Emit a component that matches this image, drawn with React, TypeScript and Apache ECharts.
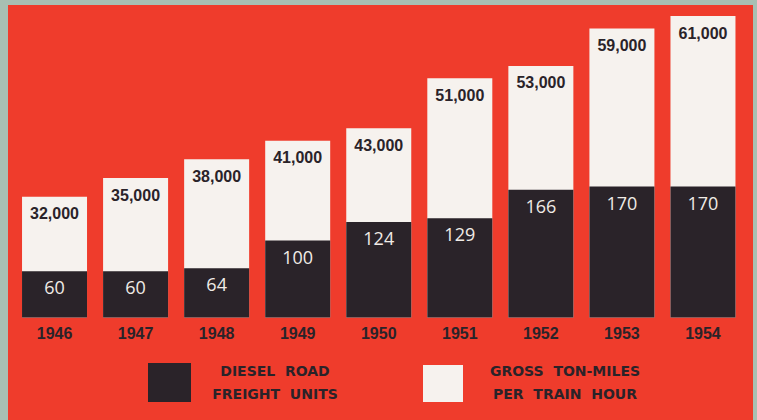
import React, { useEffect, useRef } from "react";
import * as echarts from "echarts";

const years = ["1946", "1947", "1948", "1949", "1950", "1951", "1952", "1953", "1954"];
const dieselUnits = [60, 60, 64, 100, 124, 129, 166, 170, 170];
const tonMiles = [32000, 35000, 38000, 41000, 43000, 51000, 53000, 59000, 61000];
const legendDiesel = ["DIESEL  ROAD", "FREIGHT  UNITS"];
const legendTon = ["GROSS  TON-MILES", "PER  TRAIN  HOUR"];

const RED = "#ef3c2c";
const DARK = "#2a2329";
const WHITE = "#f6f2ee";
const TEXT_DARK = "#2a2329";

export default function App() {
  const ref = useRef<HTMLDivElement>(null);
  useEffect(() => {
    const chart = echarts.init(ref.current!, undefined, { renderer: "svg" });
    const legendText = (lines: string[], x: number) =>
      lines.map((t, i) => ({
        type: "text",
        x,
        y: 371 + i * 23,
        z: 10,
        style: {
          text: t,
          fill: TEXT_DARK,
          font: "bold 14px 'DejaVu Sans'",
          align: "center",
          verticalAlign: "middle",
        },
      }));
    chart.setOption({
      animation: false,
      backgroundColor: "#a8bfb3",
      graphic: [
        { type: "rect", z: 0, shape: { x: 8, y: 5, width: 745, height: 420 }, style: { fill: RED } },
        { type: "rect", z: 10, shape: { x: 148, y: 363, width: 43, height: 39 }, style: { fill: DARK } },
        { type: "rect", z: 10, shape: { x: 423, y: 365, width: 40, height: 37 }, style: { fill: WHITE } },
        ...legendText(legendDiesel, 275),
        ...legendText(legendTon, 565),
      ],
      grid: { left: 14, right: 13.5, top: 9.5, bottom: 102.5 },
      xAxis: {
        type: "category",
        data: years,
        axisLine: { show: false },
        axisTick: { show: false },
        axisLabel: {
          margin: 8,
          color: TEXT_DARK,
          fontFamily: "Liberation Sans",
          fontWeight: "bold",
          fontSize: 16,
        },
      },
      yAxis: [
        { type: "value", min: 0, max: 400, show: false, splitLine: { show: false } },
        { type: "value", min: 12600, max: 62060, show: false, splitLine: { show: false } },
      ],
      series: [
        {
          name: "Gross ton-miles per train hour",
          type: "bar",
          yAxisIndex: 1,
          data: tonMiles,
          barWidth: 65,
          barGap: "-100%",
          itemStyle: { color: WHITE },
          label: {
            show: true,
            position: "insideTop",
            distance: 9,
            color: TEXT_DARK,
            fontFamily: "Liberation Sans",
            fontWeight: "bold",
            fontSize: 16,
            formatter: (p: any) => p.value.toLocaleString("en-US"),
          },
        },
        {
          name: "Diesel road freight units",
          type: "bar",
          yAxisIndex: 0,
          data: dieselUnits,
          barWidth: 65,
          barGap: "-100%",
          itemStyle: { color: DARK },
          label: {
            show: true,
            position: "insideTop",
            distance: 7,
            color: "#f0ebe6",
            fontFamily: "Open Sans",
            fontSize: 18,
          },
        },
      ],
    });
    return () => chart.dispose();
  }, []);
  return (
    <div
      ref={ref}
      style={{ position: "fixed", left: 0, top: 0, width: 757, height: 420 }}
    />
  );
}
